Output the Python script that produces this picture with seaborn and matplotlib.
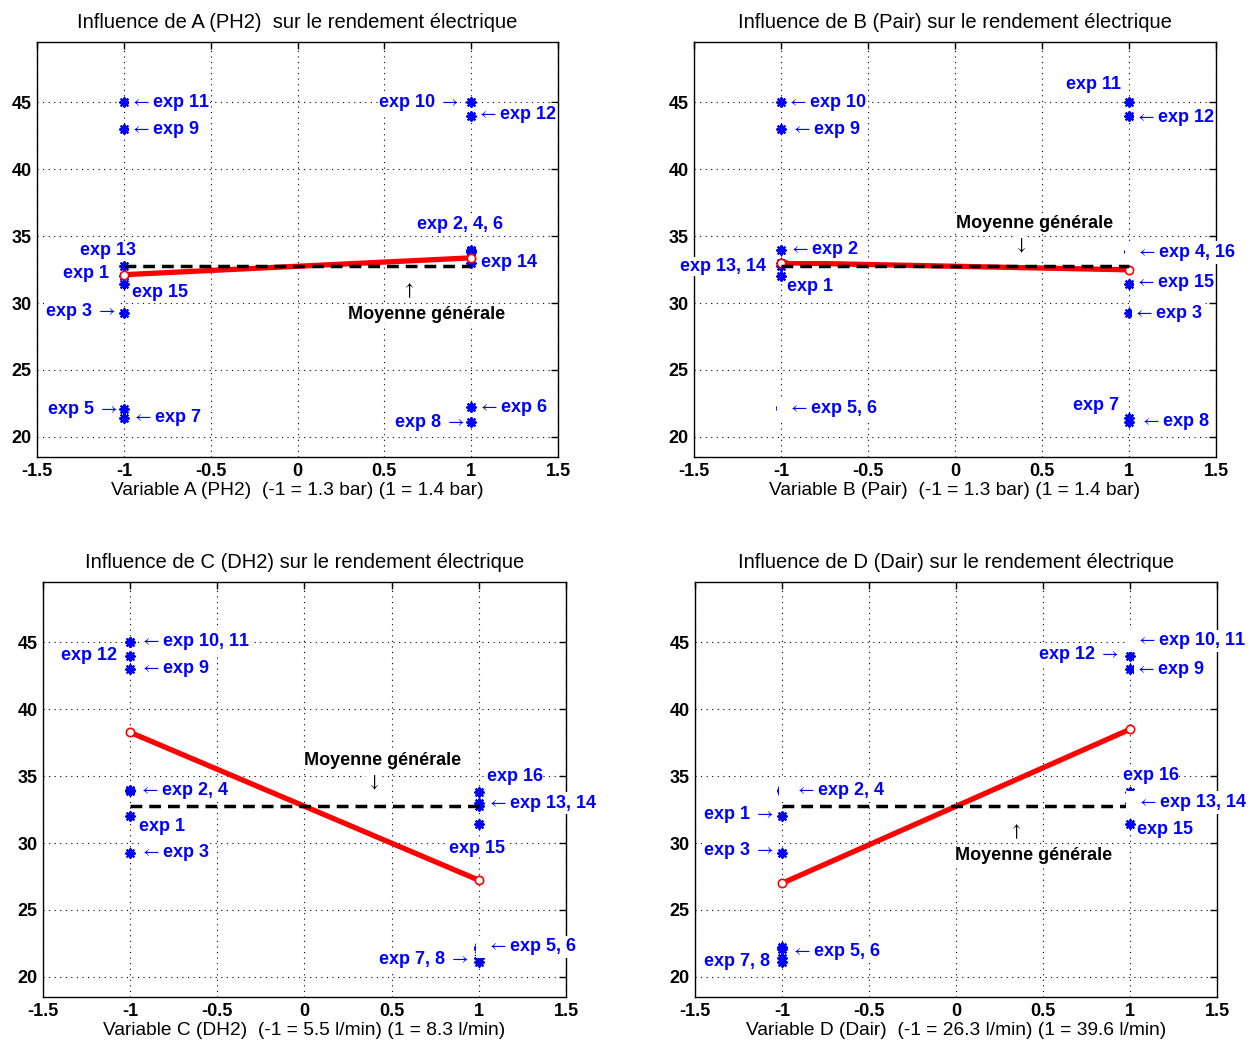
import matplotlib
matplotlib.use("Agg")
import matplotlib.pyplot as plt
import numpy as np
import pandas as pd
import seaborn as sns

# ---------------- data ----------------
experiences = list(range(1, 17))
rendement = [32.0, 34.0, 29.25, 33.9, 22.1, 22.2, 21.4, 21.1,
             43.0, 45.0, 45.0, 44.0, 32.8, 33.0, 31.4, 33.8]
niveau_A = [-1, 1] * 8
niveau_B = [-1, -1, 1, 1] * 4
niveau_C = ([-1] * 4 + [1] * 4) * 2
niveau_D = [-1] * 8 + [1] * 8

facteurs = ["A", "B", "C", "D"]
titres = [
    "Influence de A (PH2)  sur le rendement électrique",
    "Influence de B (Pair) sur le rendement électrique",
    "Influence de C (DH2) sur le rendement électrique",
    "Influence de D (Dair) sur le rendement électrique",
]
etiquettes_x = [
    "Variable A (PH2)  (-1 = 1.3 bar) (1 = 1.4 bar)",
    "Variable B (Pair)  (-1 = 1.3 bar) (1 = 1.4 bar)",
    "Variable C (DH2)  (-1 = 5.5 l/min) (1 = 8.3 l/min)",
    "Variable D (Dair)  (-1 = 26.3 l/min) (1 = 39.6 l/min)",
]
x_ticks = [-1.5, -1, -0.5, 0, 0.5, 1, 1.5]
x_tick_labels = ["-1.5", "-1", "-0.5", "0", "0.5", "1", "1.5"]
y_ticks = [20, 25, 30, 35, 40, 45]
y_tick_labels = ["20", "25", "30", "35", "40", "45"]

L = r"$\leftarrow$"
R = r"$\rightarrow$"
U = r"$\uparrow$"
D = r"$\downarrow$"

# annotation texts (text, x, y, ha, colour)
notes_A = [
    (L + "exp 11", -0.964, 45.0, "left", "blue"),
    (L + "exp 9", -0.964, 43.0, "left", "blue"),
    ("exp 13", -1.252, 33.9, "left", "blue"),
    ("exp 1", -1.352, 32.2, "left", "blue"),
    ("exp 15", -0.955, 30.8, "left", "blue"),
    ("exp 3 " + R, -1.454, 29.35, "left", "blue"),
    ("exp 5 " + R, -1.442, 22.04, "left", "blue"),
    (L + "exp 7", -0.955, 21.44, "left", "blue"),
    ("exp 10 " + R, 0.465, 45.0, "left", "blue"),
    (L + "exp 12", 1.035, 44.1, "left", "blue"),
    ("exp 2, 4, 6", 0.686, 35.9, "left", "blue"),
    ("exp 14", 1.055, 33.0, "left", "blue"),
    (L + "exp 6", 1.041, 22.2, "left", "blue"),
    ("exp 8 " + R, 0.555, 21.1, "left", "blue"),
    (U, 0.636, 30.9, "center", "black"),
    ("Moyenne générale", 0.743, 29.15, "center", "black"),
]
notes_B = [
    (L + "exp 10", -0.964, 45.0, "left", "blue"),
    (L + "exp 9", -0.944, 43.0, "left", "blue"),
    (L + "exp 2", -0.954, 33.98, "left", "blue"),
    ("exp 13, 14", -1.580, 32.73, "left", "blue"),
    ("exp 1", -0.967, 31.2, "left", "blue"),
    ("  " + L + "exp 5, 6", -1.017, 22.16, "left", "blue"),
    ("exp 11", 0.636, 46.34, "left", "blue"),
    (L + "exp 12", 1.034, 43.88, "left", "blue"),
    ("  " + L + "exp 4, 16", 0.984, 33.78, "left", "blue"),
    (L + "exp 15", 1.034, 31.54, "left", "blue"),
    (L + "exp 3", 1.023, 29.25, "left", "blue"),
    ("exp 7", 0.68, 22.36, "left", "blue"),
    (L + "exp 8", 1.063, 21.17, "left", "blue"),
    ("Moyenne générale", 0.457, 35.97, "center", "black"),
    (D, 0.374, 34.3, "center", "black"),
]
notes_C = [
    (L + "exp 10, 11", -0.943, 45.05, "left", "blue"),
    ("exp 12", -1.397, 43.98, "left", "blue"),
    (L + "exp 9", -0.943, 43.06, "left", "blue"),
    (L + "exp 2, 4", -0.952, 33.9, "left", "blue"),
    ("exp 1", -0.952, 31.2, "left", "blue"),
    (L + "exp 3", -0.943, 29.33, "left", "blue"),
    ("exp 16", 1.045, 34.97, "left", "blue"),
    (L + "exp 13, 14", 1.045, 32.98, "left", "blue"),
    ("exp 15", 0.83, 29.63, "left", "blue"),
    ("  " + L + "exp 5, 6", 0.987, 22.24, "left", "blue"),
    ("exp 7, 8 " + R, 0.42, 21.29, "left", "blue"),
    ("Moyenne générale", 0.45, 36.2, "center", "black"),
    (D, 0.394, 34.48, "center", "black"),
]
notes_D = [
    ("  " + L + "exp 10, 11", 0.977, 45.1, "left", "blue"),
    ("exp 12 " + R, 0.47, 44.1, "left", "blue"),
    (L + "exp 9", 1.029, 43.0, "left", "blue"),
    ("exp 16", 0.958, 35.05, "left", "blue"),
    ("  " + L + "exp 13, 14", 0.981, 33.03, "left", "blue"),
    ("exp 15", 1.039, 31.04, "left", "blue"),
    ("   " + L + "exp 2, 4", -1.011, 33.92, "left", "blue"),
    ("exp 1 " + R, -1.456, 32.1, "left", "blue"),
    ("exp 3 " + R, -1.456, 29.43, "left", "blue"),
    (L + "exp 5, 6", -0.948, 21.9, "left", "blue"),
    ("exp 7, 8", -1.448, 21.12, "left", "blue"),
    (U, 0.339, 30.85, "center", "black"),
    ("Moyenne générale", 0.445, 29.04, "center", "black"),
]
notes = [notes_A, notes_B, notes_C, notes_D]

# ---------------- style ----------------
sns.set_style("white")
plt.rcParams["font.family"] = ["Liberation Sans", "DejaVu Sans"]
plt.rcParams["mathtext.fontset"] = "stixsans"

df = pd.DataFrame({"exp": experiences, "rendement": rendement,
                   "A": niveau_A, "B": niveau_B, "C": niveau_C, "D": niveau_D})
moyenne = df["rendement"].mean()

W, H = 1254, 1042
fig = plt.figure(figsize=(W / 100, H / 100), dpi=100)
positions = [
    [37 / W, 1 - 457 / H, 521 / W, 415 / H],
    [694 / W, 1 - 457 / H, 522 / W, 415 / H],
    [43 / W, 1 - 997 / H, 523 / W, 415 / H],
    [695 / W, 1 - 997 / H, 522 / W, 415 / H],
]

for i, fac in enumerate(facteurs):
    ax = fig.add_axes(positions[i])
    sns.scatterplot(data=df, x=fac, y="rendement", ax=ax, color="blue",
                    marker=(8, 2, 0), s=38, linewidth=1.6, zorder=3, legend=False)
    sns.lineplot(data=df, x=fac, y="rendement", ax=ax, estimator="mean",
                 errorbar=None, color="red", lw=3.8, marker="o", ms=6,
                 markerfacecolor="white", markeredgecolor="red", mew=1.2,
                 zorder=4, legend=False)
    ax.plot([-1, 1], [moyenne, moyenne], color="black", lw=2.5,
            linestyle=(0, (3.4, 2.0)), zorder=5)

    for (txt, tx, ty, ha, col) in notes[i]:
        ax.text(tx, ty, txt, ha=ha, va="center", color=col, fontsize=13,
                fontweight="bold", zorder=10, clip_on=False,
                bbox=dict(facecolor="white", edgecolor="none", pad=0.5))

    ax.set_xlim(-1.5, 1.5)
    ax.set_ylim(18.5, 49.5)
    ax.set_xticks(x_ticks)
    ax.set_xticklabels(x_tick_labels)
    ax.set_yticks(y_ticks)
    ax.set_yticklabels(y_tick_labels)
    ax.grid(True, color="black", linestyle=(0, (1, 4)), linewidth=0.8)
    ax.tick_params(direction="in", length=5, width=1, top=True, right=True,
                   labelsize=13, pad=4, colors="black")
    for lab in ax.get_xticklabels() + ax.get_yticklabels():
        lab.set_fontweight("bold")
    for sp in ax.spines.values():
        sp.set_color("black")
        sp.set_linewidth(1.0)
    ax.set_title(titres[i], fontsize=14.5, pad=10, color="black")
    ax.set_xlabel(etiquettes_x[i], fontsize=13.8, labelpad=1.5, color="black")
    ax.set_ylabel("")

fig.savefig("out.png", dpi=100, facecolor="white")
